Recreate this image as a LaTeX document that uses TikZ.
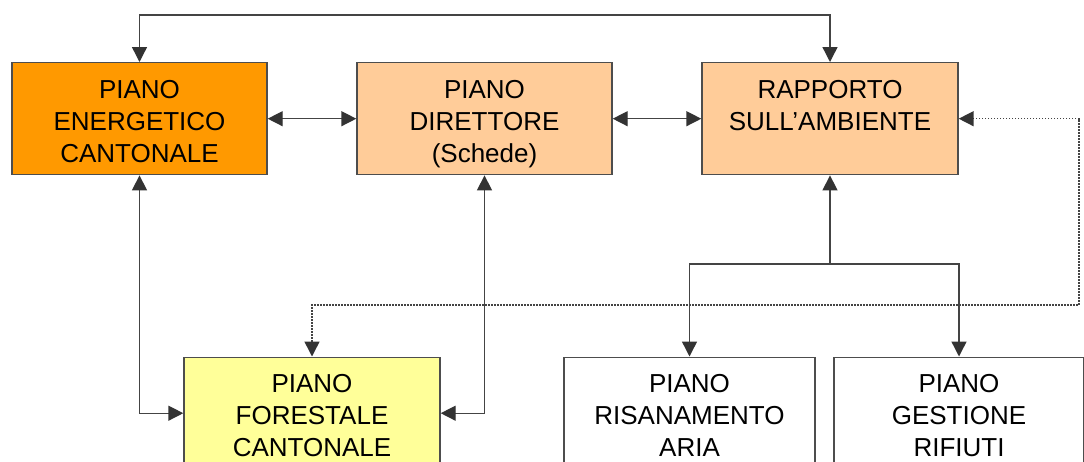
\documentclass[tikz,border=0pt]{standalone}
\usepackage{fontspec}
\setmainfont{Liberation Sans}
\usetikzlibrary{arrows.meta}
\definecolor{cOrange}{HTML}{FF9900}
\definecolor{cPeach}{HTML}{FFCC99}
\definecolor{cYellow}{HTML}{FFFF99}
\definecolor{cBorder}{HTML}{4D4D4D}
\definecolor{cLine}{HTML}{444444}
\definecolor{cTip}{HTML}{333333}
\tikzset{
  tipx/.tip={Triangle[length=15pt,width=15pt,fill=cTip,color=cTip]},
  pbox/.style={draw=cBorder, line width=1.4pt, minimum height=112pt, inner sep=0pt, anchor=north},
  ptext/.style={anchor=north, align=center, inner sep=0pt, font=\fontsize{26}{32}\selectfont},
  conn/.style={draw=cLine, line width=1.4pt, tipx-tipx},
  conn1/.style={draw=cLine, line width=1.4pt, -tipx},
  dotconn/.style={draw=cLine, line width=1.5pt, dash pattern=on 1.5pt off 1.5pt, tipx-tipx}
}
\begin{document}
\begin{tikzpicture}[x=1pt,y=-1pt]
\useasboundingbox (0,0) rectangle (1084,461);
\clip (0,0) rectangle (1084,461);
\fill[white] (0,0) rectangle (1084,461);
% boxes
\node[pbox, fill=cOrange, minimum width=255pt] (pec) at (139.5,62) {};
\node[pbox, fill=cPeach, minimum width=255pt] (pd) at (484.5,62) {};
\node[pbox, fill=cPeach, minimum width=256pt] (rsa) at (830,62) {};
\node[pbox, fill=cYellow, minimum width=256pt] (pfc) at (312,356.5) {};
\node[pbox, fill=white, minimum width=251pt] (pra) at (689.5,356.5) {};
\node[pbox, fill=white, minimum width=250pt] (pgr) at (959,356.5) {};
% texts
\node[ptext] (tpec) at ([yshift=-18pt]pec.north) {PIANO\\ENERGETICO\\CANTONALE};
\node[ptext] (tpd) at ([yshift=-18pt]pd.north) {PIANO\\DIRETTORE\\(Schede)};
\node[ptext] (trsa) at ([yshift=-18pt]rsa.north) {RAPPORTO\\SULL’AMBIENTE};
\node[ptext] (tpfc) at ([yshift=-18pt]pfc.north) {PIANO\\FORESTALE\\CANTONALE};
\node[ptext] (tpra) at ([yshift=-18pt]pra.north) {PIANO\\RISANAMENTO\\ARIA};
\node[ptext] (tpgr) at ([yshift=-18pt]pgr.north) {PIANO\\GESTIONE\\RIFIUTI};
% connectors
\coordinate (top) at (0,15);
\draw[conn] (pec.north) -- (pec.north |- top) -| (rsa.north);
\draw[conn] (pec.east) -- (pd.west);
\draw[conn] (pd.east) -- (rsa.west);
\draw[conn] (pec.south) |- (pfc.west);
\draw[conn] (pd.south) |- (pfc.east);
\coordinate (j) at (830,264);
\draw[conn1] (j) -- (rsa.south);
\draw[conn1] (j) -| (pra.north);
\draw[conn1] (j) -| (pgr.north);
\coordinate (d1) at (1079,305);
\draw[dotconn] (pfc.north) |- (d1) |- (rsa.east);
\end{tikzpicture}
\end{document}
